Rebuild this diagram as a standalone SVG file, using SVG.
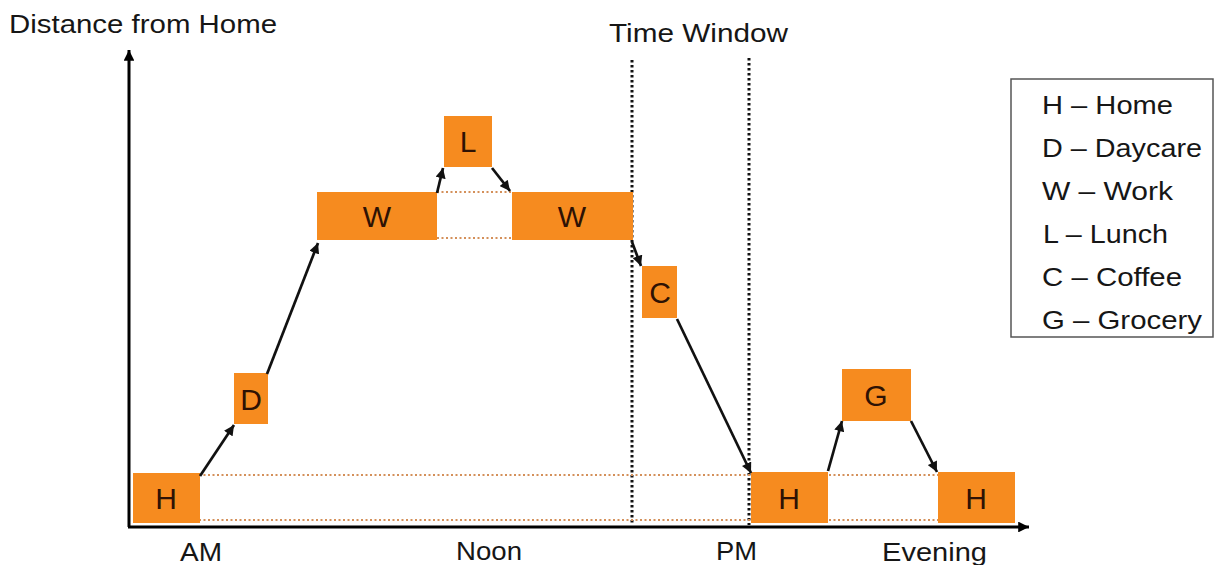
<svg xmlns="http://www.w3.org/2000/svg" width="1214" height="565" viewBox="0 0 1214 565">
  <style>
    .lbl { font-family: "Liberation Sans", Arial, sans-serif; font-size: 26px; fill: #161616; }
    .leg { font-family: "Liberation Sans", Arial, sans-serif; font-size: 25px; fill: #161616; }
    .box { fill: #F68B1F; }
    .tag { font-family: "Liberation Sans", Arial, sans-serif; font-size: 30px; fill: #2e1204; text-anchor: middle; }
    .axis { stroke: #000; stroke-width: 3; fill: none; }
    .trip { stroke: #111; stroke-width: 2.7; fill: none; marker-end: url(#head); }
    .window { stroke: #111; stroke-width: 3; stroke-dasharray: 2.4 2.6; fill: none; }
    .level { stroke: #D4905A; stroke-width: 2; stroke-dasharray: 2 2.5; fill: none; }
  </style>
  <defs>
    <marker id="head" viewBox="0 0 10 10" refX="10" refY="5" markerWidth="4" markerHeight="3.8" orient="auto" markerUnits="strokeWidth">
      <path d="M0,0 L10,5 L0,10 z" fill="#111"/>
    </marker>
    <marker id="axhead" viewBox="0 0 10 10" refX="10" refY="5" markerWidth="4" markerHeight="3.6" orient="auto" markerUnits="strokeWidth">
      <path d="M0,0 L10,5 L0,10 z" fill="#000"/>
    </marker>
  </defs>

  <rect width="1214" height="565" fill="#fff"/>

  <!-- axes -->
  <g id="axes">
    <path class="axis" d="M129,527 L129,50" marker-end="url(#axhead)"/>
    <path class="axis" d="M128,527 L1029,527" marker-end="url(#axhead)"/>
    <text class="lbl" x="9" y="33" textLength="268" lengthAdjust="spacingAndGlyphs">Distance from Home</text>
    <text class="lbl" x="180" y="561" textLength="42" lengthAdjust="spacingAndGlyphs">AM</text>
    <text class="lbl" x="456" y="560" textLength="66" lengthAdjust="spacingAndGlyphs">Noon</text>
    <text class="lbl" x="716" y="560" textLength="41" lengthAdjust="spacingAndGlyphs">PM</text>
    <text class="lbl" x="882" y="561" textLength="105" lengthAdjust="spacingAndGlyphs">Evening</text>
  </g>

  <!-- time window markers -->
  <g id="time-window">
    <line class="window" x1="632" y1="60" x2="632" y2="525"/>
    <line class="window" x1="749" y1="58" x2="749" y2="525"/>
    <text class="lbl" x="609" y="42" textLength="179" lengthAdjust="spacingAndGlyphs">Time Window</text>
  </g>

  <!-- level guides -->
  <g id="levels">
    <line class="level" x1="199" y1="475" x2="938" y2="475"/>
    <line class="level" x1="199" y1="520" x2="938" y2="520"/>
    <line class="level" x1="437" y1="192" x2="512" y2="192"/>
    <line class="level" x1="437" y1="238" x2="512" y2="238"/>
  </g>

  <!-- nodes -->
  <g id="node-h1"><rect class="box" x="133" y="473" width="67" height="50"/><text class="tag" x="166" y="509">H</text></g>
  <g id="node-d"><rect class="box" x="234" y="373" width="34" height="51"/><text class="tag" x="251" y="410">D</text></g>
  <g id="node-w1"><rect class="box" x="317" y="192" width="120" height="48"/><text class="tag" x="377" y="227">W</text></g>
  <g id="node-l"><rect class="box" x="444" y="116" width="48" height="51"/><text class="tag" x="468" y="152">L</text></g>
  <g id="node-w2"><rect class="box" x="512" y="192" width="121" height="48"/><text class="tag" x="572" y="227">W</text></g>
  <g id="node-c"><rect class="box" x="642" y="266" width="35" height="52"/><text class="tag" x="660" y="303">C</text></g>
  <g id="node-h2"><rect class="box" x="751" y="472" width="77" height="51"/><text class="tag" x="789" y="509">H</text></g>
  <g id="node-g"><rect class="box" x="842" y="369" width="69" height="52"/><text class="tag" x="876" y="406">G</text></g>
  <g id="node-h3"><rect class="box" x="938" y="472" width="77" height="51"/><text class="tag" x="976" y="509">H</text></g>

  <!-- trips -->
  <g id="connectors">
    <line class="trip" x1="200" y1="476" x2="234" y2="425"/>
    <line class="trip" x1="267" y1="374" x2="318" y2="243"/>
    <line class="trip" x1="437" y1="193" x2="443" y2="168"/>
    <line class="trip" x1="492" y1="168" x2="510" y2="191"/>
    <line class="trip" x1="632" y1="242" x2="641" y2="266"/>
    <line class="trip" x1="677" y1="319" x2="751" y2="473"/>
    <line class="trip" x1="828" y1="471" x2="842" y2="421"/>
    <line class="trip" x1="911" y1="421" x2="937" y2="472"/>
  </g>

  <!-- legend -->
  <g id="legend">
    <rect x="1011" y="79" width="202" height="258" fill="#fff" stroke="#555" stroke-width="1.5"/>
    <text class="leg" x="1042" y="114" textLength="131" lengthAdjust="spacingAndGlyphs">H – Home</text>
    <text class="leg" x="1042" y="157" textLength="160" lengthAdjust="spacingAndGlyphs">D – Daycare</text>
    <text class="leg" x="1042" y="200" textLength="131" lengthAdjust="spacingAndGlyphs">W – Work</text>
    <text class="leg" x="1043" y="243" textLength="125" lengthAdjust="spacingAndGlyphs">L – Lunch</text>
    <text class="leg" x="1042" y="286" textLength="140" lengthAdjust="spacingAndGlyphs">C – Coffee</text>
    <text class="leg" x="1042" y="329" textLength="160" lengthAdjust="spacingAndGlyphs">G – Grocery</text>
  </g>
</svg>
